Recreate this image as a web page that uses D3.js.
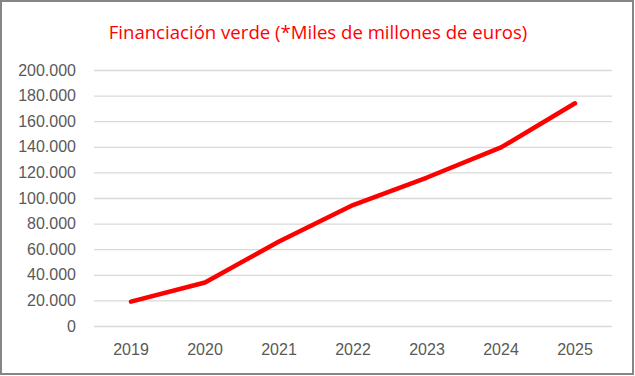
<!DOCTYPE html>
<html>
<head>
<meta charset="utf-8">
<script src="https://cdn.jsdelivr.net/npm/d3@7"></script>
<style>
  body { margin: 0; background: #fff; }
  svg { display: block; }
</style>
</head>
<body>
<svg id="chart" width="635" height="376"></svg>
<script>
(function() {
  // data (miles de millones de euros)
  const years = ['2019', '2020', '2021', '2022', '2023', '2024', '2025'];
  const financiacion = [19000, 34000, 66000, 94500, 116000, 139500, 174000];
  const yTicks = [0, 20000, 40000, 60000, 80000, 100000, 120000, 140000, 160000, 180000, 200000];
  const title = 'Financiación verde (*Miles de millones de euros)';

  const svg = d3.select('#chart');
  const left = 94, right = 612, top = 70, bottom = 326;

  svg.append('rect').attr('x', 1).attr('y', 1).attr('width', 632).attr('height', 373)
    .attr('fill', '#fff').attr('stroke', '#868686').attr('stroke-width', 2);

  svg.append('text').attr('x', 318).attr('y', 38.5).attr('text-anchor', 'middle')
    .attr('font-family', 'Open Sans, sans-serif').attr('font-size', 18.6)
    .attr('fill', '#ff0000').text(title);

  const xScale = d3.scaleBand().domain(years).range([left, right]);
  const yScale = d3.scaleLinear().domain([0, 200000]).range([bottom, top]);
  const fmt = d3.formatLocale({decimal: ',', thousands: '.', grouping: [3], currency: ['', '€']}).format(',d');

  const yAxis = svg.append('g').attr('transform', 'translate(' + left + ',0)')
    .call(d3.axisLeft(yScale).tickValues(yTicks).tickFormat(fmt).tickSize(-(right - left)).tickPadding(18));
  yAxis.select('.domain').remove();
  yAxis.selectAll('.tick line').attr('stroke', '#d9d9d9').attr('stroke-width', 1.3);
  yAxis.selectAll('.tick text').attr('fill', '#595959')
    .attr('font-family', 'Liberation Sans, Arial, sans-serif').attr('font-size', 16);

  const xAxis = svg.append('g').attr('transform', 'translate(0,' + bottom + ')')
    .call(d3.axisBottom(xScale).tickSize(0).tickPadding(18));
  xAxis.select('.domain').remove();
  xAxis.selectAll('.tick text').attr('fill', '#595959')
    .attr('font-family', 'Liberation Sans, Arial, sans-serif').attr('font-size', 16);

  const line = d3.line()
    .x(function(d, i) { return xScale(years[i]) + xScale.bandwidth() / 2; })
    .y(function(d) { return yScale(d); });

  svg.append('path').datum(financiacion).attr('d', line)
    .attr('fill', 'none').attr('stroke', '#ff0000').attr('stroke-width', 4.5)
    .attr('stroke-linecap', 'round').attr('stroke-linejoin', 'round');
}());
</script>
</body>
</html>
